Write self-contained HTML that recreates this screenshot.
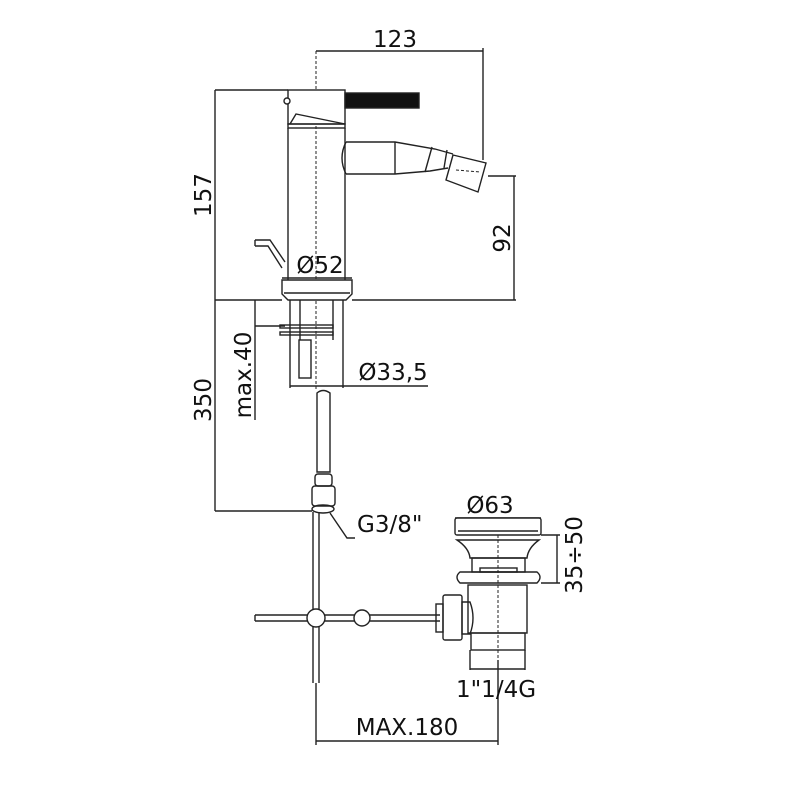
<!DOCTYPE html>
<html><head><meta charset="utf-8"><style>
html,body{margin:0;padding:0;background:#fff}
svg{display:block}
text{font-family:"DejaVu Sans","Liberation Sans",sans-serif;fill:#111}
</style></head><body>
<svg width="785" height="785" viewBox="0 0 785 785" xmlns="http://www.w3.org/2000/svg">
<g stroke="#222" stroke-width="1.4" fill="none">
<!-- dimension lines -->
<line x1="316" y1="51" x2="483" y2="51"/>
<line x1="483" y1="48" x2="483" y2="160"/>
<line x1="215" y1="90" x2="288" y2="90"/>
<line x1="215" y1="90" x2="215" y2="511"/>
<line x1="215" y1="300" x2="282" y2="300"/>
<line x1="352" y1="300" x2="516" y2="300"/>
<line x1="488" y1="176" x2="516" y2="176"/>
<line x1="514" y1="176" x2="514" y2="300"/>
<line x1="282" y1="278" x2="352" y2="278"/>
<line x1="255" y1="300" x2="255" y2="420"/>
<line x1="255" y1="326" x2="285" y2="326"/>
<line x1="290" y1="386" x2="428" y2="386"/>
<line x1="290" y1="340" x2="290" y2="388"/>
<line x1="343" y1="340" x2="343" y2="388"/>
<line x1="215" y1="511" x2="312" y2="511"/>
<line x1="455" y1="518" x2="541" y2="518"/>
<line x1="541" y1="535" x2="560" y2="535"/>
<line x1="541" y1="583" x2="560" y2="583"/>
<line x1="557" y1="535" x2="557" y2="583"/>
<line x1="470" y1="650" x2="470" y2="670"/>
<line x1="525" y1="650" x2="525" y2="670"/>
<line x1="470" y1="669" x2="525" y2="669"/>
<line x1="316" y1="683" x2="316" y2="745"/>
<line x1="498" y1="660" x2="498" y2="745"/>
<line x1="316" y1="741" x2="498" y2="741"/>
<polyline points="330,513 347,538 355,538"/>
<!-- center line -->
<line x1="316" y1="51" x2="316" y2="390" stroke-dasharray="3,2" stroke-width="1"/>
<line x1="498" y1="520" x2="498" y2="660" stroke-dasharray="3,2" stroke-width="1"/>
<!-- faucet head -->
<rect x="288" y="90" width="57" height="34" fill="#fff"/>
<circle cx="287" cy="101" r="3" fill="#fff"/>
<polyline points="290,124 296,114 345,124"/>
<rect x="288" y="124" width="57" height="4"/>
<rect x="345" y="93" width="74" height="15" fill="#111"/>
<!-- body -->
<line x1="288" y1="128" x2="288" y2="280"/>
<line x1="345" y1="128" x2="345" y2="280"/>
<!-- spout -->
<path d="M346,142 Q338,158 346,174"/>
<path d="M346,174 L395,174 L430,171 L448,168"/>
<path d="M346,142 L395,142 L435,149 L453,154"/>
<line x1="395" y1="142" x2="395" y2="174"/>
<line x1="432" y1="147" x2="425" y2="172"/>
<line x1="447" y1="150" x2="444" y2="168"/>
<path d="M453,155 L486,163 L478,192 L446,180 Z" fill="#fff"/>
<line x1="456" y1="170" x2="480" y2="172" stroke-dasharray="3,2" stroke-width="1"/>
<!-- lift rod -->
<polyline points="255,240 270,240 285,262"/>
<polyline points="255,246 268,246 282,268"/>
<line x1="255" y1="240" x2="255" y2="246"/>
<!-- base flange -->
<path d="M282,280 L352,280 L352,294 L346,300 L288,300 L282,294 Z" fill="#fff"/>
<line x1="284" y1="293" x2="350" y2="293"/>
<!-- shank -->
<line x1="290" y1="300" x2="290" y2="340"/>
<line x1="300" y1="300" x2="300" y2="340"/>
<line x1="333" y1="300" x2="333" y2="340"/>
<line x1="343" y1="300" x2="343" y2="340"/>
<rect x="280" y="325" width="53" height="3"/>
<rect x="280" y="332" width="53" height="3"/>
<rect x="299" y="340" width="12" height="38"/>
<!-- hose -->
<path d="M317,393 Q323,388 330,393 L330,472 L317,472 Z"/>
<rect x="315" y="474" width="17" height="12" rx="3"/>
<rect x="312" y="486" width="23" height="20" rx="3"/>
<ellipse cx="323" cy="509" rx="11" ry="4"/>
<!-- vertical pipe -->
<line x1="313" y1="512" x2="313" y2="683"/>
<line x1="319" y1="512" x2="319" y2="683"/>
<!-- horizontal pipe -->
<line x1="255" y1="615" x2="440" y2="615"/>
<line x1="255" y1="621" x2="440" y2="621"/>
<line x1="255" y1="615" x2="255" y2="621"/>
<circle cx="316" cy="618" r="9" fill="#fff"/>
<circle cx="362" cy="618" r="8" fill="#fff"/>
<!-- drain -->
<rect x="455" y="518" width="86" height="17" rx="2" fill="#fff"/>
<line x1="458" y1="531" x2="538" y2="531"/>
<path d="M457,540 L539,540 Q528,548 527,558 L470,558 Q469,548 457,540 Z"/>
<rect x="472" y="558" width="53" height="14"/>
<rect x="480" y="568" width="37" height="4"/>
<path d="M460,572 L537,572 Q543,577 537,583 L460,583 Q454,577 460,572 Z"/>
<rect x="468" y="585" width="59" height="48"/>
<rect x="471" y="633" width="54" height="17"/>
<path d="M462,602 L470,602 Q476,618 470,634 L462,634 Z"/>
<rect x="443" y="595" width="19" height="45" rx="2"/>
<rect x="436" y="604" width="7" height="28"/>
</g>
<!-- text -->
<text x="395" y="47" font-size="23" text-anchor="middle">123</text>
<text x="211" y="195" font-size="23" text-anchor="middle" transform="rotate(-90 211 195)">157</text>
<text x="510" y="238" font-size="23" text-anchor="middle" transform="rotate(-90 510 238)">92</text>
<text x="320" y="273" font-size="23" text-anchor="middle">Ø52</text>
<text x="211" y="400" font-size="23" text-anchor="middle" transform="rotate(-90 211 400)">350</text>
<text x="251" y="375" font-size="23" text-anchor="middle" transform="rotate(-90 251 375)">max.40</text>
<text x="393" y="380" font-size="23" text-anchor="middle">Ø33,5</text>
<text x="357" y="532" font-size="23">G3/8"</text>
<text x="490" y="513" font-size="23" text-anchor="middle">Ø63</text>
<text x="582" y="555" font-size="23" text-anchor="middle" transform="rotate(-90 582 555)">35÷50</text>
<text x="496" y="697" font-size="23" text-anchor="middle">1"1/4G</text>
<text x="407" y="735" font-size="23" text-anchor="middle">MAX.180</text>
</svg>
</body></html>
